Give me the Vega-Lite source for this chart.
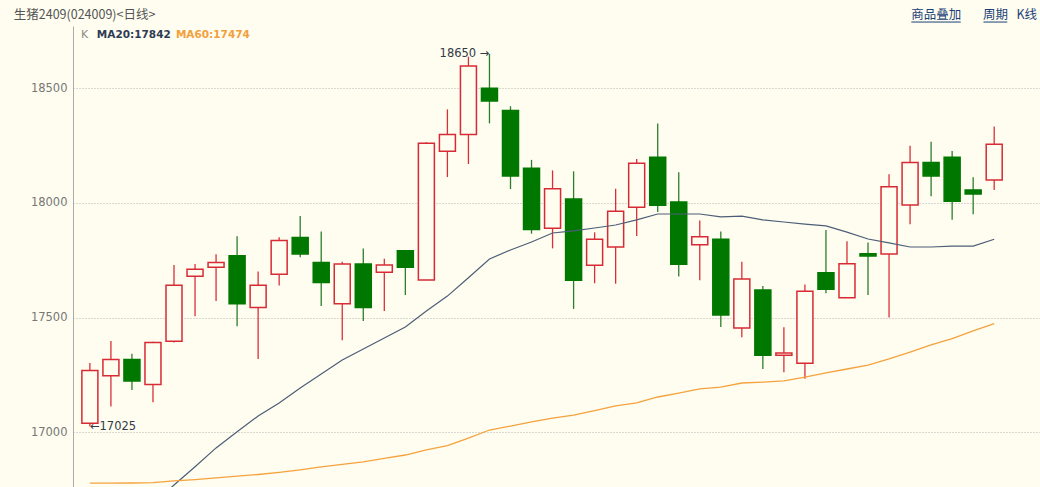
{
  "$schema": "https://vega.github.io/schema/vega-lite/v6.json",
  "width": 967,
  "height": 461,
  "autosize": {"type": "none"},
  "padding": {"left": 73, "top": 26, "right": 0, "bottom": 0},
  "background": "#FEFDEF",
  "config": {"view": {"stroke": null}, "font": "DejaVu Sans"},
  "datasets": {
    "candles": [
      {"i": 0, "o": 17039, "h": 17302, "l": 17025, "c": 17270, "dir": "up"},
      {"i": 1, "o": 17247, "h": 17398, "l": 17112, "c": 17318, "dir": "up"},
      {"i": 2, "o": 17318, "h": 17342, "l": 17185, "c": 17224, "dir": "down"},
      {"i": 3, "o": 17208, "h": 17395, "l": 17131, "c": 17392, "dir": "up"},
      {"i": 4, "o": 17397, "h": 17730, "l": 17392, "c": 17641, "dir": "up"},
      {"i": 5, "o": 17680, "h": 17734, "l": 17506, "c": 17711, "dir": "up"},
      {"i": 6, "o": 17720, "h": 17776, "l": 17573, "c": 17740, "dir": "up"},
      {"i": 7, "o": 17770, "h": 17855, "l": 17462, "c": 17561, "dir": "down"},
      {"i": 8, "o": 17544, "h": 17701, "l": 17320, "c": 17641, "dir": "up"},
      {"i": 9, "o": 17689, "h": 17850, "l": 17640, "c": 17836, "dir": "up"},
      {"i": 10, "o": 17849, "h": 17943, "l": 17763, "c": 17778, "dir": "down"},
      {"i": 11, "o": 17740, "h": 17876, "l": 17551, "c": 17653, "dir": "down"},
      {"i": 12, "o": 17561, "h": 17744, "l": 17401, "c": 17734, "dir": "up"},
      {"i": 13, "o": 17734, "h": 17801, "l": 17485, "c": 17544, "dir": "down"},
      {"i": 14, "o": 17698, "h": 17757, "l": 17529, "c": 17730, "dir": "up"},
      {"i": 15, "o": 17792, "h": 17792, "l": 17599, "c": 17720, "dir": "down"},
      {"i": 16, "o": 17664, "h": 18265, "l": 17664, "c": 18260, "dir": "up"},
      {"i": 17, "o": 18225, "h": 18408, "l": 18113, "c": 18299, "dir": "up"},
      {"i": 18, "o": 18299, "h": 18638, "l": 18170, "c": 18597, "dir": "up"},
      {"i": 19, "o": 18500, "h": 18650, "l": 18347, "c": 18445, "dir": "down"},
      {"i": 20, "o": 18403, "h": 18422, "l": 18061, "c": 18118, "dir": "down"},
      {"i": 21, "o": 18151, "h": 18188, "l": 17866, "c": 17884, "dir": "down"},
      {"i": 22, "o": 17890, "h": 18142, "l": 17802, "c": 18062, "dir": "up"},
      {"i": 23, "o": 18017, "h": 18138, "l": 17538, "c": 17663, "dir": "down"},
      {"i": 24, "o": 17728, "h": 17872, "l": 17650, "c": 17842, "dir": "up"},
      {"i": 25, "o": 17808, "h": 18062, "l": 17648, "c": 17964, "dir": "up"},
      {"i": 26, "o": 17981, "h": 18192, "l": 17856, "c": 18173, "dir": "up"},
      {"i": 27, "o": 18199, "h": 18347, "l": 17961, "c": 17990, "dir": "down"},
      {"i": 28, "o": 18004, "h": 18134, "l": 17679, "c": 17733, "dir": "down"},
      {"i": 29, "o": 17818, "h": 17924, "l": 17663, "c": 17853, "dir": "up"},
      {"i": 30, "o": 17842, "h": 17876, "l": 17459, "c": 17512, "dir": "down"},
      {"i": 31, "o": 17455, "h": 17744, "l": 17414, "c": 17669, "dir": "up"},
      {"i": 32, "o": 17621, "h": 17638, "l": 17276, "c": 17336, "dir": "down"},
      {"i": 33, "o": 17336, "h": 17458, "l": 17262, "c": 17346, "dir": "up"},
      {"i": 34, "o": 17301, "h": 17645, "l": 17233, "c": 17615, "dir": "up"},
      {"i": 35, "o": 17696, "h": 17882, "l": 17606, "c": 17624, "dir": "down"},
      {"i": 36, "o": 17587, "h": 17833, "l": 17587, "c": 17735, "dir": "up"},
      {"i": 37, "o": 17779, "h": 17828, "l": 17599, "c": 17769, "dir": "down"},
      {"i": 38, "o": 17778, "h": 18125, "l": 17501, "c": 18071, "dir": "up"},
      {"i": 39, "o": 17991, "h": 18249, "l": 17907, "c": 18177, "dir": "up"},
      {"i": 40, "o": 18177, "h": 18267, "l": 18029, "c": 18118, "dir": "down"},
      {"i": 41, "o": 18199, "h": 18227, "l": 17927, "c": 18007, "dir": "down"},
      {"i": 42, "o": 18057, "h": 18112, "l": 17951, "c": 18039, "dir": "down"},
      {"i": 43, "o": 18100, "h": 18333, "l": 18057, "c": 18256, "dir": "up"}
    ],
    "ma": [
      {"i": 0, "ma20": null, "ma60": 16778},
      {"i": 1, "ma20": null, "ma60": 16778},
      {"i": 2, "ma20": null, "ma60": 16779},
      {"i": 3, "ma20": 16687, "ma60": 16781},
      {"i": 4, "ma20": 16770, "ma60": 16788},
      {"i": 5, "ma20": 16850, "ma60": 16794},
      {"i": 6, "ma20": 16932, "ma60": 16801},
      {"i": 7, "ma20": 17002, "ma60": 16809},
      {"i": 8, "ma20": 17071, "ma60": 16816},
      {"i": 9, "ma20": 17128, "ma60": 16825},
      {"i": 10, "ma20": 17193, "ma60": 16836},
      {"i": 11, "ma20": 17254, "ma60": 16849},
      {"i": 12, "ma20": 17315, "ma60": 16860},
      {"i": 13, "ma20": 17363, "ma60": 16871},
      {"i": 14, "ma20": 17411, "ma60": 16886},
      {"i": 15, "ma20": 17459, "ma60": 16901},
      {"i": 16, "ma20": 17529, "ma60": 16923},
      {"i": 17, "ma20": 17594, "ma60": 16942},
      {"i": 18, "ma20": 17674, "ma60": 16975},
      {"i": 19, "ma20": 17756, "ma60": 17010},
      {"i": 20, "ma20": 17795, "ma60": 17027},
      {"i": 21, "ma20": 17830, "ma60": 17045},
      {"i": 22, "ma20": 17869, "ma60": 17062},
      {"i": 23, "ma20": 17878, "ma60": 17075},
      {"i": 24, "ma20": 17891, "ma60": 17095},
      {"i": 25, "ma20": 17904, "ma60": 17115},
      {"i": 26, "ma20": 17926, "ma60": 17128},
      {"i": 27, "ma20": 17952, "ma60": 17154},
      {"i": 28, "ma20": 17952, "ma60": 17171},
      {"i": 29, "ma20": 17952, "ma60": 17189},
      {"i": 30, "ma20": 17939, "ma60": 17197},
      {"i": 31, "ma20": 17943, "ma60": 17215},
      {"i": 32, "ma20": 17926, "ma60": 17219},
      {"i": 33, "ma20": 17917, "ma60": 17224},
      {"i": 34, "ma20": 17908, "ma60": 17241},
      {"i": 35, "ma20": 17900, "ma60": 17259},
      {"i": 36, "ma20": 17873, "ma60": 17276},
      {"i": 37, "ma20": 17843, "ma60": 17293},
      {"i": 38, "ma20": 17826, "ma60": 17320},
      {"i": 39, "ma20": 17808, "ma60": 17350},
      {"i": 40, "ma20": 17808, "ma60": 17381},
      {"i": 41, "ma20": 17812, "ma60": 17409},
      {"i": 42, "ma20": 17812, "ma60": 17442},
      {"i": 43, "ma20": 17842, "ma60": 17474}
    ]
  },
  "encoding": {
    "x": {"field": "i", "type": "quantitative", "scale": {"domain": [-0.565, 44.94], "nice": false, "zero": false}, "axis": null}
  },
  "layer": [
    {
      "mark": {"type": "rect", "fill": "#FFFFFF", "clip": false},
      "encoding": {
        "x": {"datum": -4, "type": "quantitative", "scale": {"domain": [-0.565, 44.94], "nice": false, "zero": false}, "axis": null},
        "x2": {"datum": 46},
        "y": {"datum": 18775, "type": "quantitative", "scale": {"domain": [16761.5, 18771.7], "nice": false, "zero": false}, "title": null},
        "y2": {"datum": 19000}
      }
    },
    {
      "mark": {"type": "rect", "fill": "#FFFFFF", "clip": false},
      "encoding": {
        "x": {"datum": -5},
        "x2": {"datum": -3.53},
        "y": {"datum": 16000, "type": "quantitative", "scale": {"domain": [16761.5, 18771.7], "nice": false, "zero": false}, "title": null},
        "y2": {"datum": 18776}
      }
    },
    {
      "mark": {"type": "rule", "color": "#d4d4d4", "strokeWidth": 1, "clip": false},
      "encoding": {
        "x": {"datum": -3.53},
        "x2": {"datum": 46},
        "y": {"datum": 18776, "type": "quantitative", "scale": {"domain": [16761.5, 18771.7], "nice": false, "zero": false}, "title": null}
      }
    },
    {
      "data": {"name": "candles"},
      "mark": {"type": "rule", "strokeWidth": 1.3},
      "encoding": {
        "y": {"field": "l", "type": "quantitative", "scale": {"domain": [16761.5, 18771.7], "nice": false, "zero": false}, "title": null, "axis": {"values": [17000, 17500, 18000, 18500], "format": "d", "title": null, "grid": true, "domain": true, "domainColor": "#ababab", "ticks": false, "labelColor": "#777777", "labelFontSize": 11.5, "labelPadding": 6, "labelFont": "DejaVu Sans", "gridColor": "#b5b5b5", "gridDash": [1, 2], "gridWidth": 1, "gridOpacity": 1}},
        "y2": {"field": "h"},
        "color": {"field": "dir", "type": "nominal", "scale": {"domain": ["up", "down"], "range": ["#d8303a", "#2e7d2e"]}, "legend": null}
      }
    },
    {
      "data": {"name": "candles"},
      "mark": {"type": "bar", "size": 16, "strokeWidth": 1.5},
      "encoding": {
        "y": {"field": "o", "type": "quantitative", "scale": {"domain": [16761.5, 18771.7], "nice": false, "zero": false}, "title": null},
        "y2": {"field": "c"},
        "fill": {"field": "dir", "type": "nominal", "scale": {"domain": ["up", "down"], "range": ["#FEFDEF", "#007800"]}, "legend": null},
        "stroke": {"field": "dir", "type": "nominal", "scale": {"domain": ["up", "down"], "range": ["#d82a34", "#007800"]}, "legend": null}
      }
    },
    {
      "data": {"name": "ma"},
      "mark": {"type": "line", "color": "#4d5e78", "strokeWidth": 1.2, "clip": true},
      "encoding": {
        "y": {"field": "ma20", "type": "quantitative", "scale": {"domain": [16761.5, 18771.7], "nice": false, "zero": false}, "title": null}
      }
    },
    {
      "data": {"name": "ma"},
      "mark": {"type": "line", "color": "#f5a23e", "strokeWidth": 1.3, "clip": true},
      "encoding": {
        "y": {"field": "ma60", "type": "quantitative", "scale": {"domain": [16761.5, 18771.7], "nice": false, "zero": false}, "title": null}
      }
    },
    {
      "data": {"values": [{"i": -3.62, "v": 18819.7, "text": "生猪2409(024009)<日线>"}]},
      "mark": {"type": "text", "align": "left", "baseline": "middle", "font": "Noto Sans CJK SC", "fontSize": 12.5, "color": "#555555"},
      "encoding": {
        "y": {"field": "v", "type": "quantitative", "scale": {"domain": [16761.5, 18771.7], "nice": false, "zero": false}, "title": null},
        "text": {"field": "text"}
      }
    },
    {
      "data": {"values": [{"i": 40.24, "v": 18821, "text": "商品叠加"}, {"i": 43.06, "v": 18821, "text": "周期"}, {"i": 44.55, "v": 18821, "text": "K线"}]},
      "mark": {"type": "text", "align": "center", "baseline": "middle", "font": "Noto Sans CJK SC", "fontSize": 12.5, "color": "#1d3f78"},
      "encoding": {
        "y": {"field": "v", "type": "quantitative", "scale": {"domain": [16761.5, 18771.7], "nice": false, "zero": false}, "title": null},
        "text": {"field": "text"}
      }
    },
    {
      "data": {"values": [{"a": 39.06, "b": 41.41, "v": 18789}, {"a": 42.49, "b": 43.62, "v": 18789}]},
      "mark": {"type": "rule", "color": "#1d3f78", "strokeWidth": 1, "clip": false},
      "encoding": {
        "x": {"field": "a", "type": "quantitative"},
        "x2": {"field": "b"},
        "y": {"field": "v", "type": "quantitative", "scale": {"domain": [16761.5, 18771.7], "nice": false, "zero": false}, "title": null}
      }
    },
    {
      "data": {"values": [{"i": -0.424, "v": 18732.5, "text": "K"}]},
      "mark": {"type": "text", "align": "left", "baseline": "middle", "fontSize": 11, "color": "#8a8a8a"},
      "encoding": {
        "y": {"field": "v", "type": "quantitative", "scale": {"domain": [16761.5, 18771.7], "nice": false, "zero": false}, "title": null},
        "text": {"field": "text"}
      }
    },
    {
      "data": {"values": [{"i": 0.33, "v": 18732.5, "text": "MA20:17842"}]},
      "mark": {"type": "text", "align": "left", "baseline": "middle", "fontSize": 10.5, "fontWeight": "bold", "color": "#2e3b55"},
      "encoding": {
        "y": {"field": "v", "type": "quantitative", "scale": {"domain": [16761.5, 18771.7], "nice": false, "zero": false}, "title": null},
        "text": {"field": "text"}
      }
    },
    {
      "data": {"values": [{"i": 4.09, "v": 18732.5, "text": "MA60:17474"}]},
      "mark": {"type": "text", "align": "left", "baseline": "middle", "fontSize": 10.5, "fontWeight": "bold", "color": "#f2a03c"},
      "encoding": {
        "y": {"field": "v", "type": "quantitative", "scale": {"domain": [16761.5, 18771.7], "nice": false, "zero": false}, "title": null},
        "text": {"field": "text"}
      }
    },
    {
      "data": {"values": [{"i": 19, "v": 18650, "text": "18650 →"}]},
      "mark": {"type": "text", "align": "right", "baseline": "middle", "fontSize": 11.5, "color": "#333a48"},
      "encoding": {
        "y": {"field": "v", "type": "quantitative", "scale": {"domain": [16761.5, 18771.7], "nice": false, "zero": false}, "title": null},
        "text": {"field": "text"}
      }
    },
    {
      "data": {"values": [{"i": 0, "v": 17025, "text": "←17025"}]},
      "mark": {"type": "text", "align": "left", "baseline": "middle", "fontSize": 11.5, "color": "#333a48"},
      "encoding": {
        "y": {"field": "v", "type": "quantitative", "scale": {"domain": [16761.5, 18771.7], "nice": false, "zero": false}, "title": null},
        "text": {"field": "text"}
      }
    }
  ]
}
